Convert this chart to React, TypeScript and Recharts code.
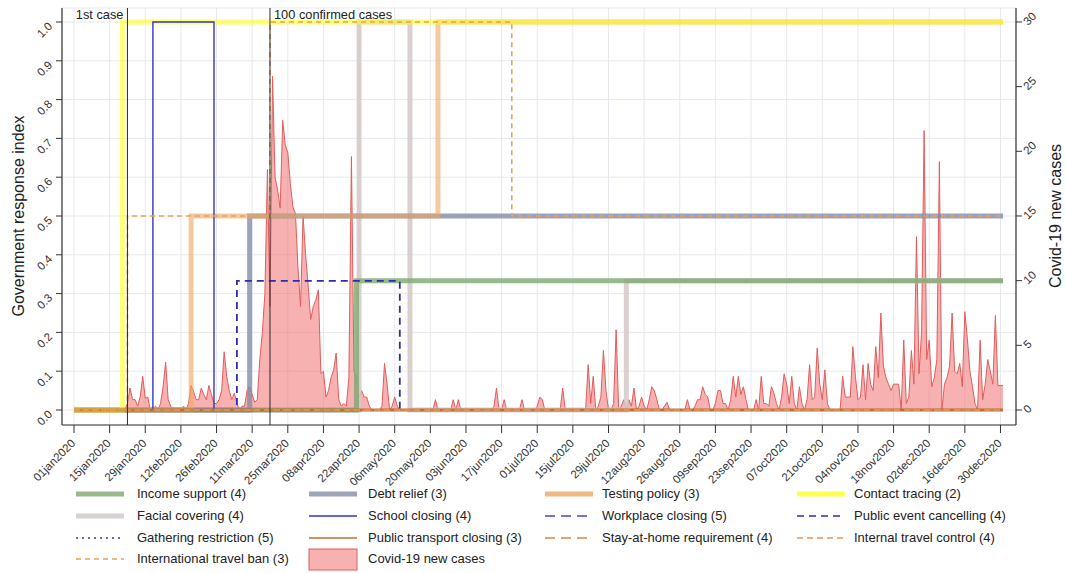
import React from 'react';
import { ComposedChart, Area, Line, XAxis, YAxis, CartesianGrid, ReferenceLine } from 'recharts';

const FONT = '"Liberation Sans", Arial, Helvetica, sans-serif';

// day 0 = 01jan2020; case counts start on 21jan2020 (day 20)
const FIRST_CASE_DAY = 20;

const casesJan = [0, 0.5, 1.7, 0.8, 0.8, 0.3, 1, 2.6, 0.9, 1, 0];
const casesFeb = [0, 0.3, 0, 0.5, 1.8, 3.7, 0.8, 0.3, 0, 0, 0, 0, 0.3, 0, 0.5, 1.9, 1.4, 0.8, 0.8, 1.7, 1.2, 0.8, 1.9, 1.2, 0.5, 0.5, 0.8, 1.5, 4.5];
const casesMar = [2.6, 1.5, 0.8, 1.3, 0.5, 0, 0.3, 0.3, 1.5, 1.8, 1.2, 0.6, 0.8, 3.9, 6, 9, 18.6, 8, 25.8, 18, 17, 15.6, 22.4, 20.5, 19.9, 17.5, 15.7, 15.2, 11, 8, 15];
const casesApr = [12, 9.6, 7, 8, 8.5, 9.3, 2.8, 3, 1, 1.5, 2.5, 3.1, 4.4, 0.8, 0.3, 0.5, 0.3, 2.5, 19.6, 3, 2.5, 1, 1.5, 1, 1, 0.3, 0, 0, 0, 0];
const casesMay = [0.3, 3.6, 2, 0, 0.3, 1, 0.3, 0, 0, 0, 0, 0, 0, 0, 0, 0, 0, 0, 0, 0, 0, 0.8, 0, 0, 0, 0, 0, 0, 0.8, 0, 0.8];
const casesJun = [0, 0, 0, 0, 0, 0, 0, 0, 0, 0, 0, 0, 0, 0.3, 1.7, 0, 0, 0.8, 0, 0, 0, 0, 0, 0, 0.8, 0, 0, 0, 0, 0];
const casesJul = [0.3, 1, 0.8, 0, 0, 0, 0, 0, 0, 0, 1.7, 0, 0, 0, 0, 0, 0, 0, 0, 0, 3.5, 0.5, 2.6, 0, 0.3, 1, 4.6, 1.5, 0, 0, 0.5];
const casesAug = [6.2, 0, 0.3, 0.8, 0, 0.8, 0.3, 1.7, 0, 0.3, 1, 0.3, 0, 0.8, 1.8, 1.5, 0.8, 0, 0, 0.3, 0.6, 0, 0, 0, 0, 0, 0, 0, 0.8, 0, 0];
const casesSep = [0.3, 0.8, 0.8, 1.8, 1.2, 1, 0, 0, 0.5, 1.5, 1.5, 0.5, 0.5, 0, 0.8, 2.6, 1, 2.6, 1.2, 1.8, 0.8, 0, 0, 0, 0.8, 0, 2.6, 0.5, 0.5, 0.3];
const casesOct = [1.8, 1.3, 0.5, 0, 1, 2.8, 2, 0.5, 2.6, 0.5, 0, 1.8, 0.5, 0, 0.8, 3.5, 0.8, 1, 4.8, 2, 0.8, 3.1, 0.5, 0, 0, 0, 0, 0, 2.6, 1, 1];
const casesNov = [1, 4.9, 2.6, 0.8, 1, 3.5, 0.8, 3.6, 2, 1.5, 4.9, 2.5, 7.5, 3.4, 2.5, 2, 1.5, 2, 2, 2, 0, 5.4, 0.5, 1, 4.6, 2, 13.4, 2.8, 6, 21.6];
const casesDec = [3.9, 5.4, 1.8, 2.5, 3.9, 19.2, 0, 2, 2.5, 3.4, 7.5, 3, 2.8, 3.6, 1.8, 7.6, 5.5, 3, 1.8, 0.5, 0, 5.4, 0.8, 2, 3.9, 3, 2, 7.3, 1.9, 1.9, 1.9];

const newCases = [
  ...casesJan, ...casesFeb, ...casesMar, ...casesApr, ...casesMay, ...casesJun,
  ...casesJul, ...casesAug, ...casesSep, ...casesOct, ...casesNov, ...casesDec,
];

const tickDays = [0, 14, 28, 42, 56, 70, 84, 98, 112, 126, 140, 154, 168, 182, 196, 210, 224, 238, 252, 266, 280, 294, 308, 322, 336, 350, 364];
const tickLabels = [
  '01jan2020', '15jan2020', '29jan2020', '12feb2020', '26feb2020', '11mar2020', '25mar2020',
  '08apr2020', '22apr2020', '06may2020', '20may2020', '03jun2020', '17jun2020', '01jul2020',
  '15jul2020', '29jul2020', '12aug2020', '26aug2020', '09sep2020', '23sep2020', '07oct2020',
  '21oct2020', '04nov2020', '18nov2020', '02dec2020', '16dec2020', '30dec2020',
];

const leftTicks = [0, 0.1, 0.2, 0.3, 0.4, 0.5, 0.6, 0.7, 0.8, 0.9, 1];
const rightTicks = [0, 5, 10, 15, 20, 25, 30];

// policy indices as [day, value] change points
const incomeSupport = [[0, 0], [111, 0.333], [365, 0.333]];
const debtRelief = [[0, 0], [69, 0.5], [365, 0.5]];
const testingPolicy = [[0, 0], [46, 0.5], [143, 1], [365, 1]];
const contactTracing = [[0, 0], [19, 1], [365, 1]];
const facialCovering = [[0, 0], [112, 1], [132, 0], [217, 0.333], [365, 0.333]];
const schoolClosing = [[0, 0], [31, 1], [55, 0], [365, 0]];
const workplaceClosing = [[0, 0], [365, 0]];
const publicEvents = [[0, 0], [64, 0.333], [128, 0], [365, 0]];
const gatheringRestriction = [[0, 0], [365, 0]];
const publicTransport = [[0, 0], [365, 0]];
const stayAtHome = [[0, 0], [365, 0]];
const internalTravel = [[0, 0], [365, 0]];
const internationalTravel = [[0, 0], [21, 0.5], [77, 1], [172, 0.5], [365, 0.5]];

const eventDays = [21, 77];
const eventLabels = ['1st case', '100 confirmed cases'];

// layer = drawing order (low first), list order = legend order
const policies = [
  { name: 'Income support (4)', steps: incomeSupport, color: '#7ea86f', width: 5, opacity: 0.8, layer: 1 },
  { name: 'Debt relief (3)', steps: debtRelief, color: '#848ca6', width: 5, opacity: 0.8, layer: 2 },
  { name: 'Testing policy (3)', steps: testingPolicy, color: '#eca862', width: 5, opacity: 0.6, layer: 3 },
  { name: 'Contact tracing (2)', steps: contactTracing, color: '#ffff22', width: 5, opacity: 0.6, layer: 4 },
  { name: 'Facial covering (4)', steps: facialCovering, color: '#d4c8c8', width: 5, opacity: 0.85, layer: 0 },
  { name: 'School closing (4)', steps: schoolClosing, color: '#3434c8', width: 1.4, opacity: 1, layer: 5 },
  { name: 'Workplace closing (5)', steps: workplaceClosing, color: '#4444cc', width: 1.6, opacity: 1, dash: '10 6', layer: 6 },
  { name: 'Public event cancelling (4)', steps: publicEvents, color: '#2e2eaa', width: 1.8, opacity: 1, dash: '7 5', layer: 7 },
  { name: 'Gathering restriction (5)', steps: gatheringRestriction, color: '#3a3a9a', width: 1.6, opacity: 1, dash: '2 4', layer: 8 },
  { name: 'Public transport closing (3)', steps: publicTransport, color: '#bc7034', width: 3, opacity: 1, layer: 9 },
  { name: 'Stay-at-home requirement (4)', steps: stayAtHome, color: '#d08a4c', width: 1.6, opacity: 1, dash: '10 6', layer: 10 },
  { name: 'Internal travel control (4)', steps: internalTravel, color: '#e0985a', width: 1.6, opacity: 1, dash: '6 4', layer: 11 },
  { name: 'International travel ban (3)', steps: internationalTravel, color: '#f0a050', width: 1.6, opacity: 1, dash: '5 4', layer: 12 },
];

const chartData = newCases.map((v, i) => ({ day: FIRST_CASE_DAY + i, cases: v }));

const XTick = ({ x, y, payload }: any) => (
  <text transform={`translate(${x + 2},${y + 9}) rotate(-45)`} textAnchor="end" fontSize={11.5} fill="#333" fontFamily={FONT}>
    {tickLabels[tickDays.indexOf(payload.value)]}
  </text>
);

const LeftTick = ({ x, y, payload }: any) => (
  <text transform={`translate(${x - 1},${y + 5}) rotate(-45)`} textAnchor="end" fontSize={11.5} fill="#333" fontFamily={FONT}>
    {payload.value.toFixed(1)}
  </text>
);

const RightTick = ({ x, y, payload }: any) => (
  <text transform={`translate(${x + 4},${y + 4}) rotate(-45)`} textAnchor="start" fontSize={11.5} fill="#333" fontFamily={FONT}>
    {payload.value}
  </text>
);

const EventLabel = ({ viewBox, text, side }: any) => (
  <text
    x={side === 'left' ? viewBox.x - 4 : viewBox.x + 4}
    y={viewBox.y + 11}
    textAnchor={side === 'left' ? 'end' : 'start'}
    fontSize={12.8}
    fill="#222"
    fontFamily={FONT}
  >
    {text}
  </text>
);

const legendCols = [76, 309, 545, 797];
const legendTextCols = [137, 368, 602, 854];
const legendRows = [494, 516, 538, 559];

const App: React.FC = () => {
  const items = [...policies.map(p => ({ ...p, area: false })), { name: 'Covid-19 new cases', area: true } as any];
  const drawOrder = [...policies].sort((a, b) => a.layer - b.layer);

  return (
    <div style={{ position: 'absolute', left: 0, top: 0, width: 1066, height: 573, background: '#fff' }}>
      <ComposedChart width={1066} height={573} data={chartData} margin={{ top: 8, right: 0, bottom: 0, left: 0 }}>
        <CartesianGrid yAxisId="left" stroke="#e6e9ee" strokeWidth={1} />
        <XAxis
          dataKey="day"
          type="number"
          domain={[-4.715, 370.1]}
          allowDataOverflow
          ticks={tickDays}
          interval={0}
          height={148}
          tickSize={8}
          tick={<XTick />}
          axisLine={{ stroke: '#333', strokeWidth: 1.2 }}
          tickLine={{ stroke: '#333' }}
        />
        <YAxis
          yAxisId="left"
          orientation="left"
          type="number"
          domain={[-0.0387, 1.0361]}
          allowDataOverflow
          ticks={leftTicks}
          interval={0}
          width={62}
          tickSize={6}
          tick={<LeftTick />}
          axisLine={{ stroke: '#333', strokeWidth: 1.2 }}
          tickLine={{ stroke: '#333' }}
        />
        <YAxis
          yAxisId="right"
          orientation="right"
          type="number"
          domain={[-1.16, 31.08]}
          allowDataOverflow
          ticks={rightTicks}
          interval={0}
          width={50}
          tickSize={6}
          tick={<RightTick />}
          axisLine={{ stroke: '#333', strokeWidth: 1.2 }}
          tickLine={{ stroke: '#333' }}
        />
        {drawOrder.map(p => (
          <Line
            key={p.name}
            yAxisId="left"
            data={p.steps.map(([day, v]) => ({ day, v }))}
            dataKey="v"
            type="stepAfter"
            stroke={p.color}
            strokeWidth={p.width}
            strokeOpacity={p.opacity}
            strokeDasharray={p.dash}
            dot={false}
            activeDot={false}
            isAnimationActive={false}
          />
        ))}
        <Area
          yAxisId="right"
          dataKey="cases"
          type="linear"
          baseValue={0}
          fill="#f06464"
          fillOpacity={0.5}
          stroke="#e25c5c"
          strokeWidth={1}
          isAnimationActive={false}
        />
        {eventDays.map((d, i) => (
          <ReferenceLine
            key={d}
            yAxisId="left"
            x={d}
            stroke="#2a2a2a"
            strokeWidth={1}
            label={<EventLabel text={eventLabels[i]} side={i === 0 ? 'left' : 'right'} />}
          />
        ))}
      </ComposedChart>

      <svg width={1066} height={573} style={{ position: 'absolute', left: 0, top: 0, pointerEvents: 'none' }}>
        <text transform="translate(24,216) rotate(-90)" textAnchor="middle" fontSize={16} fill="#222" fontFamily={FONT}>
          Government response index
        </text>
        <text transform="translate(1061,216) rotate(-90)" textAnchor="middle" fontSize={16} fill="#222" fontFamily={FONT}>
          Covid-19 new cases
        </text>
        {items.map((it, i) => {
          const col = i % 4;
          const row = Math.floor(i / 4);
          const y = legendRows[row];
          const x0 = legendCols[col];
          return (
            <g key={it.name}>
              {it.area ? (
                <rect x={x0} y={y - 10} width={48} height={21} fill="#f06464" fillOpacity={0.5} stroke="#e25c5c" strokeWidth={1} />
              ) : (
                <line
                  x1={x0}
                  x2={x0 + 48}
                  y1={y}
                  y2={y}
                  stroke={it.color}
                  strokeWidth={it.width >= 5 ? it.width : Math.min(it.width, 1.6)}
                  strokeOpacity={it.width >= 5 ? Math.max(it.opacity, 0.8) : it.opacity}
                  strokeDasharray={it.dash}
                />
              )}
              <text x={legendTextCols[col]} y={y + 4} fontSize={13} fill="#222" fontFamily={FONT}>
                {it.name}
              </text>
            </g>
          );
        })}
      </svg>
    </div>
  );
};

export default App;
